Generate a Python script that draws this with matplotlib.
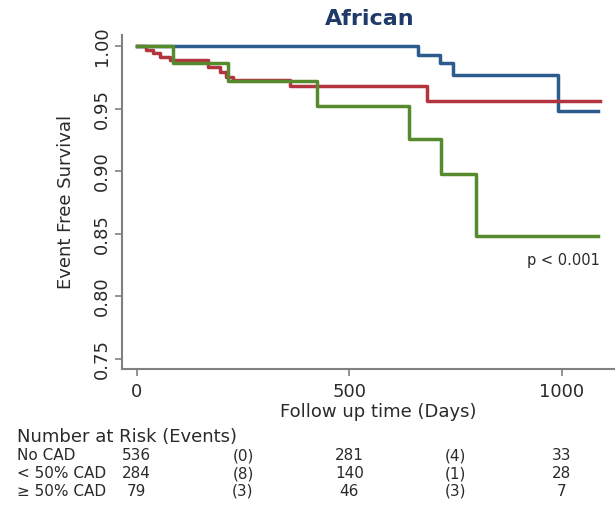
import numpy as np
import matplotlib
matplotlib.use("Agg")
import matplotlib.pyplot as plt

# Kaplan-Meier steps (days, survival)
no_cad_t = [0, 662, 713, 745, 990, 1085]
no_cad_s = [1.0, 0.993, 0.986, 0.977, 0.948, 0.948]

lt50_t = [0, 23, 38, 55, 78, 168, 196, 210, 226, 361, 682, 1090]
lt50_s = [1.0, 0.997, 0.994, 0.991, 0.989, 0.983, 0.979, 0.975, 0.973, 0.968, 0.956, 0.956]

ge50_t = [0, 86, 216, 425, 641, 715, 798, 1086]
ge50_s = [1.0, 0.986, 0.972, 0.952, 0.926, 0.898, 0.848, 0.848]

x_ticks = [0, 500, 1000]
y_ticks = [0.75, 0.80, 0.85, 0.90, 0.95, 1.00]

# Number at risk table
risk_groups = ["No CAD", "< 50% CAD", "\u2265 50% CAD"]
risk_times = [0, 500, 1000]
risk_counts = [[536, 281, 33], [284, 140, 28], [79, 46, 7]]
event_times = [250, 750]
event_counts = [[0, 4], [8, 1], [3, 3]]

colors = ["#2C5C8E", "#B3343E", "#558A2D"]
grey = "#808080"
txt = "#2a2a2a"

fig = plt.figure(figsize=(6.15, 5.05), dpi=100)
ax = fig.add_axes([0.198, 0.269, 0.802, 0.662])

ax.step(no_cad_t, no_cad_s, where="post", color=colors[0], lw=2.5)
ax.step(lt50_t, lt50_s, where="post", color=colors[1], lw=2.5)
ax.step(ge50_t, ge50_s, where="post", color=colors[2], lw=2.5)

ax.set_xlim(-35, 1125)
ax.set_ylim(0.742, 1.0088)

ax.spines["top"].set_visible(False)
ax.spines["right"].set_visible(False)
for s in ["left", "bottom"]:
    ax.spines[s].set_color(grey)
    ax.spines[s].set_linewidth(1.5)

ax.set_xticks(x_ticks)
ax.set_xticklabels([str(v) for v in x_ticks])
ax.set_yticks(y_ticks)
ax.set_yticklabels([f"{v:.2f}" for v in y_ticks], rotation=90, va="center")
ax.tick_params(axis="both", colors=grey, labelcolor=txt, length=5, width=1.2,
               labelsize=13)
ax.tick_params(axis="x", pad=5)
ax.tick_params(axis="y", pad=3)

ax.set_ylabel("Event Free Survival", fontsize=13, color=txt)
ax.yaxis.set_label_coords(-0.095, 0.5)

ax.text(1090, 0.829, "p < 0.001", ha="right", va="center", fontsize=10.5, color=txt)

fig.text(370 / 615, 1 - 19 / 505, "African", ha="center", va="center",
         fontsize=16, fontweight="bold", color="#1F3A68")
fig.text(378 / 615, 1 - 412 / 505, "Follow up time (Days)", ha="center",
         va="center", fontsize=13, color=txt)

# risk table under the plot
fig.text(17 / 615, 1 - 437 / 505, "Number at Risk (Events)", ha="left",
         va="center", fontsize=13, color=txt)
row_y = [456, 474, 491]
to_fig = ax.transData + fig.transFigure.inverted()
for i, g in enumerate(risk_groups):
    yf = 1 - row_y[i] / 505
    fig.text(17 / 615, yf, g, ha="left", va="center", fontsize=11, color=txt)
    for t, n in zip(risk_times, risk_counts[i]):
        xf = to_fig.transform((t, 1.0))[0]
        fig.text(xf, yf, str(n), ha="center", va="center", fontsize=11, color=txt)
    for t, e in zip(event_times, event_counts[i]):
        xf = to_fig.transform((t, 1.0))[0]
        fig.text(xf, yf, f"({e})", ha="center", va="center", fontsize=11, color=txt)

fig.savefig("out.png", dpi=100)
